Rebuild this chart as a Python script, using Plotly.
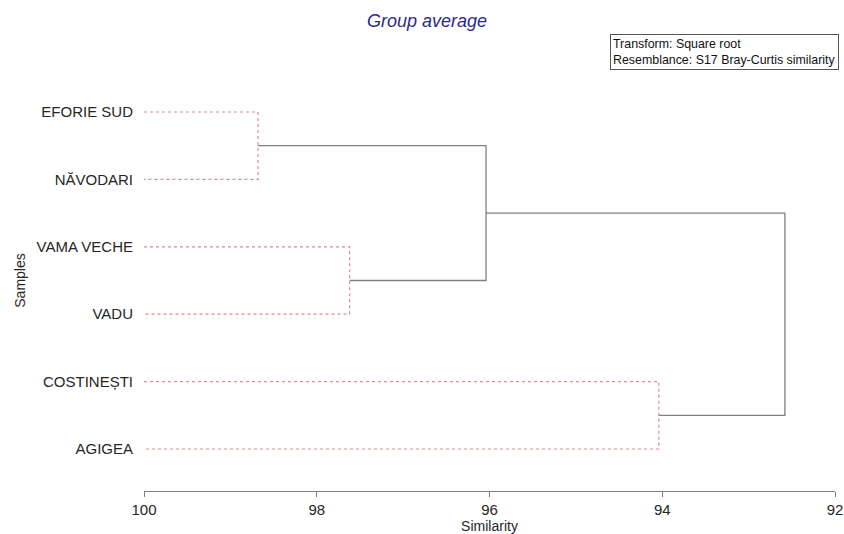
import plotly.graph_objects as go

# Leaf samples, top to bottom in dendrogram order
samples = ["EFORIE SUD", "NĂVODARI", "VAMA VECHE", "VADU", "COSTINEȘTI", "AGIGEA"]

# Group-average linkage: (child a, child b, similarity %); new nodes numbered from len(samples)
merge_a = [0, 2, 6, 4, 8]
merge_b = [1, 3, 7, 5, 9]
merge_sim = [98.68, 97.62, 96.04, 94.04, 92.58]
# Merges inside groups that SIMPROF does not separate (drawn dotted red)
merge_same_group = [True, True, False, True, False]

x_ticks = [100, 98, 96, 94, 92]

n = len(samples)
node_x = {i: 100.0 for i in range(n)}
node_y = {i: float(n - i) for i in range(n)}

red_x, red_y, blk_x, blk_y = [], [], [], []
for k, (a, b, s, same) in enumerate(zip(merge_a, merge_b, merge_sim, merge_same_group)):
    nid = n + k
    node_x[nid] = s
    node_y[nid] = (node_y[a] + node_y[b]) / 2
    xs = [node_x[a], s, s, node_x[b]]
    ys = [node_y[a], node_y[a], node_y[b], node_y[b]]
    if same:
        red_x += xs + [None]
        red_y += ys + [None]
    else:
        blk_x += xs + [None]
        blk_y += ys + [None]

fig = go.Figure()
fig.add_trace(go.Scatter(x=blk_x, y=blk_y, mode="lines",
                         line=dict(color="#808080", width=1.3),
                         hoverinfo="skip", showlegend=False))
fig.add_trace(go.Scatter(x=red_x, y=red_y, mode="lines",
                         line=dict(color="#e38a8a", width=1.2, dash="dot"),
                         hoverinfo="skip", showlegend=False))

fig.update_layout(
    width=844, height=534,
    margin=dict(l=144, r=9, t=70, b=43),
    paper_bgcolor="white", plot_bgcolor="white",
    font=dict(family="Liberation Sans, Arial, sans-serif", size=15, color="#262626"),
    title=dict(text="<i>Group average</i>", x=0.506, xanchor="center", y=0.962, yanchor="middle",
               font=dict(size=18, color="#2a2a8c")),
    xaxis=dict(range=[100, 92], tickvals=x_ticks, ticktext=[str(t) for t in x_ticks],
               automargin=False,
               showgrid=False, zeroline=False, showline=True, linecolor="#808080", linewidth=1.2,
               ticks="outside", ticklen=5, tickcolor="#808080",
               tickfont=dict(size=15),
               title=dict(text="Similarity", standoff=0, font=dict(size=14))),
    yaxis=dict(range=[0.377, n + 0.623], tickvals=[node_y[i] for i in range(n)], ticktext=samples,
               automargin=False,
               showgrid=False, zeroline=False, showline=False, ticks="", ticklabelstandoff=10,
               title=dict(text="Samples", standoff=7, font=dict(size=14))),
)

fig.add_annotation(
    xref="paper", yref="paper", x=1.0, y=1.0, xanchor="right", yanchor="bottom",
    xshift=4, yshift=0,
    text="Transform: Square root<br>Resemblance: S17 Bray-Curtis similarity",
    align="left", showarrow=False, font=dict(size=12.4, color="#111111"),
    bordercolor="#555555", borderwidth=1, borderpad=2, bgcolor="white",
)

fig.write_html("out.html")
